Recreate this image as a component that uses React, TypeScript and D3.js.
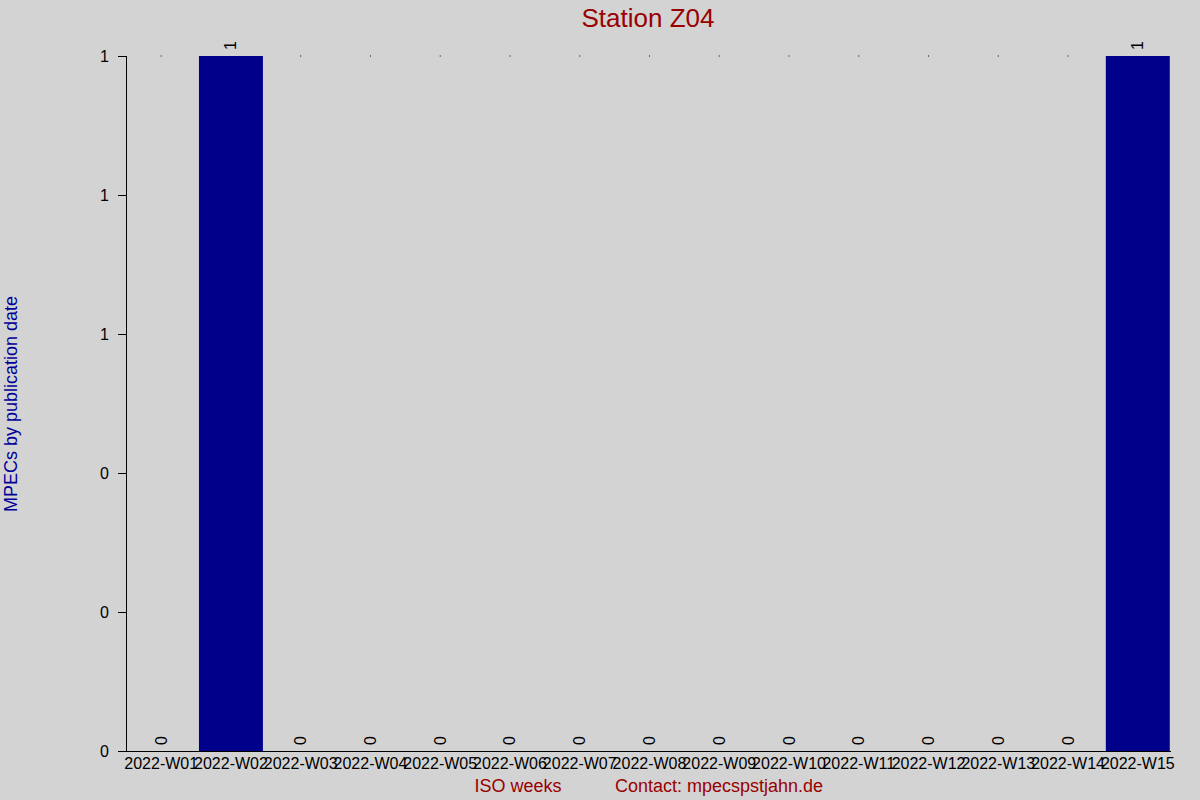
import { useEffect, useRef } from 'react'
import * as d3 from 'd3'

const weeks = [
  '2022-W01', '2022-W02', '2022-W03', '2022-W04', '2022-W05',
  '2022-W06', '2022-W07', '2022-W08', '2022-W09', '2022-W10',
  '2022-W11', '2022-W12', '2022-W13', '2022-W14', '2022-W15',
]
const mpecs = [0, 1, 0, 0, 0, 0, 0, 0, 0, 0, 0, 0, 0, 0, 1]
const yTicks = [0, 0.2, 0.4, 0.6, 0.8, 1]

const title = 'Station Z04'
const yLabel = 'MPECs by publication date'
const xLabel = 'ISO weeks'
const contact = 'Contact: mpecspstjahn.de'

export default function App() {
  const svgRef = useRef<SVGSVGElement>(null)

  useEffect(() => {
    const svg = svgRef.current
    if (!svg) return
    const width = 1200
    const height = 800
    const margin = { top: 56, right: 27, bottom: 49, left: 126 }
    const innerW = width - margin.left - margin.right
    const innerH = height - margin.top - margin.bottom
    const font = 'Liberation Sans, Arial, sans-serif'

    d3.select(svg).selectAll('*').remove()
    const s = d3.select(svg).attr('width', width).attr('height', height)

    s.append('rect').attr('width', width).attr('height', height).attr('fill', '#d3d3d3')

    const root = s.append('g').attr('transform', `translate(${margin.left},${margin.top})`)

    const x = d3.scaleBand<string>().domain(weeks).range([0, innerW]).paddingInner(0.083).paddingOuter(0.046)
    const y = d3.scaleLinear().domain([0, 1]).range([innerH, 0])

    // bars
    root
      .selectAll('rect.bar')
      .data(weeks)
      .join('rect')
      .attr('class', 'bar')
      .attr('x', (d) => x(d)!)
      .attr('width', x.bandwidth())
      .attr('y', (_, i) => y(mpecs[i]))
      .attr('height', (_, i) => innerH - y(mpecs[i]))
      .attr('fill', '#00008b')

    // small dots at top for empty weeks
    root
      .selectAll('rect.dot')
      .data(weeks.filter((_, i) => mpecs[i] === 0))
      .join('rect')
      .attr('class', 'dot')
      .attr('x', (d) => x(d)! + x.bandwidth() / 2 - 0.5)
      .attr('y', y(1) - 0.5)
      .attr('width', 1)
      .attr('height', 1)
      .attr('fill', '#000')

    // value labels, rotated
    root
      .selectAll('text.val')
      .data(weeks)
      .join('text')
      .attr('class', 'val')
      .attr('transform', (d, i) => {
        const cx = x(d)! + x.bandwidth() / 2
        const cy = mpecs[i] > 0 ? y(mpecs[i]) - 6 : innerH - 6
        return `translate(${cx},${cy}) rotate(-90)`
      })
      .attr('dominant-baseline', 'central')
      .attr('font-family', font)
      .attr('font-size', '16px')
      .attr('fill', '#000')
      .text((_, i) => String(mpecs[i]))

    // axes
    const yAxis = d3.axisLeft(y).tickValues(yTicks).tickSize(8).tickPadding(9).tickFormat(d3.format('.0f'))
    root
      .append('g')
      .call(yAxis)
      .call((g) => g.select('.domain').attr('d', `M0.5,0V${innerH}`).attr('stroke', '#000'))
      .call((g) => g.selectAll('.tick line').attr('stroke', '#000'))
      .call((g) => g.selectAll('text').attr('font-family', font).attr('font-size', '16px').attr('fill', '#000'))

    const xAxis = d3.axisBottom(x).tickSize(0).tickPadding(7)
    root
      .append('g')
      .attr('transform', `translate(0,${innerH})`)
      .call(xAxis)
      .call((g) => g.select('.domain').attr('d', `M-8,0.5H${innerW - 2}`).attr('stroke', '#000'))
      .call((g) => g.selectAll('text').attr('font-family', font).attr('font-size', '16px').attr('fill', '#000'))

    // titles
    s.append('text')
      .attr('x', 648)
      .attr('y', 27)
      .attr('text-anchor', 'middle')
      .attr('font-family', font)
      .attr('font-size', '26px')
      .attr('fill', '#990000')
      .text(title)

    s.append('text')
      .attr('transform', `translate(17,404) rotate(-90)`)
      .attr('text-anchor', 'middle')
      .attr('font-family', font)
      .attr('font-size', '18px')
      .attr('fill', '#000099')
      .text(yLabel)

    s.append('text')
      .attr('x', 518)
      .attr('y', 792)
      .attr('text-anchor', 'middle')
      .attr('font-family', font)
      .attr('font-size', '18px')
      .attr('fill', '#990000')
      .text(xLabel)

    s.append('text')
      .attr('x', 719)
      .attr('y', 792)
      .attr('text-anchor', 'middle')
      .attr('font-family', font)
      .attr('font-size', '18px')
      .attr('fill', '#990000')
      .text(contact)
  }, [])

  return (
    <div style={{ position: 'absolute', left: 0, top: 0 }}>
      <svg ref={svgRef} style={{ display: 'block' }} />
    </div>
  )
}
